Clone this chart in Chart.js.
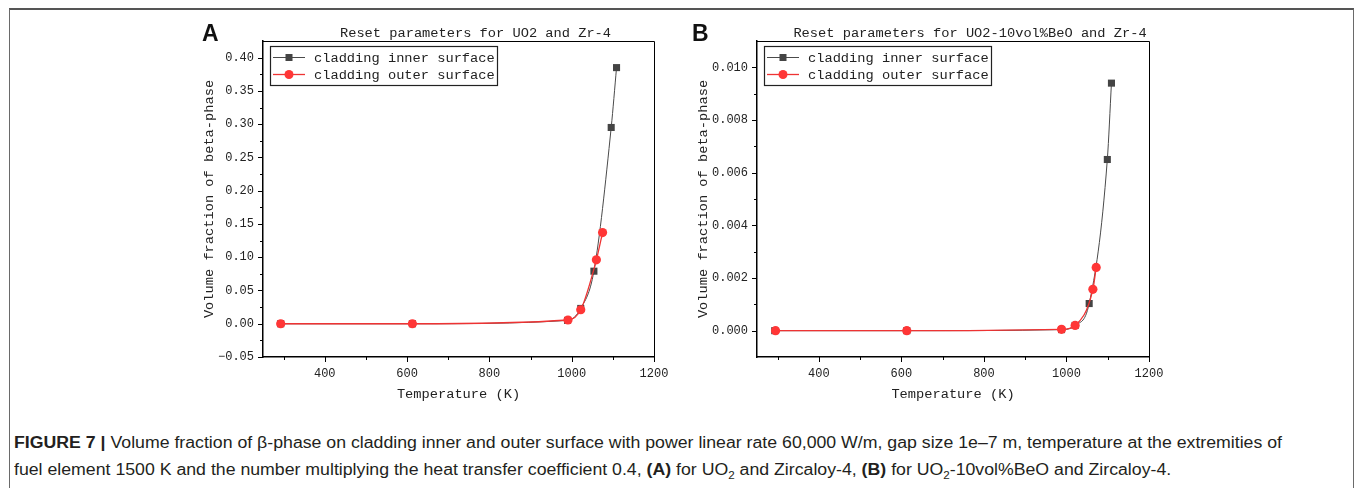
<!DOCTYPE html>
<html>
<head>
<meta charset="utf-8">
<script src="https://cdn.jsdelivr.net/npm/chart.js@4.4.1/dist/chart.umd.min.js"></script>
<style>
html, body { margin: 0; padding: 0; background: #fff; }
body { width: 1355px; height: 488px; position: relative; overflow: hidden; }
#frame { position: absolute; left: 9px; top: 8px; width: 1343px; height: 520px;
         border: 1px solid #6a6a6a; border-top: 2px solid #555; }
.panel { position: absolute; top: 0; width: 500px; height: 410px; }
#boxA { left: 180px; }
#boxB { left: 680px; }
.letter { position: absolute; top: 20px; font: bold 23px "Liberation Sans", Arial, sans-serif; color: #111; }
#caption { position: absolute; left: 14px; top: 429px; font: 16px "Liberation Sans", Arial, sans-serif;
           color: #231f20; line-height: 27px; white-space: nowrap; transform-origin: 0 0; }
#caption sub { font-size: 10.5px; line-height: 0; }
</style>
</head>
<body>
<div id="frame"></div>
<div class="panel" id="boxA"><canvas id="chartA" width="500" height="410"></canvas></div>
<div class="panel" id="boxB"><canvas id="chartB" width="500" height="410"></canvas></div>
<div class="letter" style="left:202px">A</div>
<div class="letter" style="left:692px">B</div>
<div id="caption">
  <div id="line1"><b>FIGURE 7 |</b> Volume fraction of β-phase on cladding inner and outer surface with power linear rate 60,000 W/m, gap size 1e–7 m, temperature at the extremities of</div>
  <div id="line2">fuel element 1500 K and the number multiplying the heat transfer coefficient 0.4, <b>(A)</b> for UO<sub>2</sub> and Zircaloy-4, <b>(B)</b> for UO<sub>2</sub>-10vol%BeO and Zircaloy-4.</div>
</div>

<script>
// data //

const seriesNames = ['cladding inner surface', 'cladding outer surface'];
const panelTitles = ['Reset parameters for UO2 and Zr-4', 'Reset parameters for UO2-10vol%BeO and Zr-4'];
const xTitle = 'Temperature (K)';
const yTitle = 'Volume fraction of beta-phase';

// panel A - UO2  (inner point near 990 K sits under the red circle)
const tempInnerA = [293, 613, 990, 1022, 1054, 1096, 1109];
const fracInnerA = [0, 0, 0.005, 0.023, 0.079, 0.295, 0.385];
const tempOuterA = [293, 613, 991, 1022, 1060, 1075];
const fracOuterA = [0, 0, 0.0056, 0.021, 0.096, 0.137];

// panel B - UO2-10vol%BeO
const tempInnerB = [293, 613, 988, 1021, 1055, 1099, 1109];
const fracInnerB = [0, 0, 0.00004, 0.0002, 0.00103, 0.0065, 0.0094];
const tempOuterB = [295, 613, 988, 1021, 1064, 1072];
const fracOuterB = [0, 0, 0.00005, 0.0002, 0.00157, 0.0024];

// axis ranges / ticks
const xRange = [250, 1200];
const xTicks = [400, 600, 800, 1000, 1200];
const yRangeA = [-0.05, 0.425];
const yTicksA = [-0.05, 0, 0.05, 0.10, 0.15, 0.20, 0.25, 0.30, 0.35, 0.40];
const yRangeB = [-0.001, 0.011];
const yTicksB = [0, 0.002, 0.004, 0.006, 0.008, 0.010];

const MONO = '"Liberation Mono", "DejaVu Sans Mono", monospace';
Chart.defaults.font.family = MONO;
Chart.defaults.color = '#222';

function points(xs, ys) {
    return xs.map((x, i) => ({ x: x, y: ys[i] }));
}

function fmt(v, dec) {
    let s = Number(v).toFixed(dec);
    if (s.startsWith('-')) s = '\u2212' + s.slice(1);
    return s;
}

// frame, minor/major ticks, legend and title
const decor = {
    id: 'decor',
    afterDraw(chart, args, o) {
        const { ctx, chartArea: a, scales } = chart;
        const x = scales.x, y = scales.y;
        const xs = o.xTicks[1] - o.xTicks[0];
        const ys = o.yTicks[1] - o.yTicks[0];
        ctx.save();
        ctx.strokeStyle = '#000';
        ctx.lineWidth = 1;

        // top and right side of the box
        ctx.beginPath();
        ctx.moveTo(a.left, a.top + 0.5);
        ctx.lineTo(a.right + 0.5, a.top + 0.5);
        ctx.lineTo(a.right + 0.5, a.bottom);
        ctx.stroke();

        // ticks, pointing out
        ctx.beginPath();
        o.xTicks.forEach(v => {
            const px = Math.round(x.getPixelForValue(v)) + 0.5;
            ctx.moveTo(px, a.bottom); ctx.lineTo(px, a.bottom + 5);
            const m = v - xs / 2;
            if (m > x.min) {
                const pm = Math.round(x.getPixelForValue(m)) + 0.5;
                ctx.moveTo(pm, a.bottom); ctx.lineTo(pm, a.bottom + 3);
            }
        });
        const ySeen = {};
        o.yTicks.forEach(v => {
            const py = Math.round(y.getPixelForValue(v)) + 0.5;
            ctx.moveTo(a.left, py); ctx.lineTo(a.left - 5, py);
            [-1, 1].forEach(k => {
                const m = v + k * ys / 2;
                const key = m.toFixed(6);
                if (m > y.min && m < y.max && !ySeen[key]) {
                    ySeen[key] = true;
                    const pm = Math.round(y.getPixelForValue(m)) + 0.5;
                    ctx.moveTo(a.left, pm); ctx.lineTo(a.left - 3, pm);
                }
            });
        });
        ctx.stroke();

        // title
        ctx.fillStyle = '#222';
        ctx.font = '13.7px ' + MONO;
        ctx.textAlign = 'center';
        ctx.textBaseline = 'alphabetic';
        ctx.fillText(o.title, (a.left + a.right) / 2 + 17, 37);

        // legend in the upper left corner
        const bx = a.left + 7, by = a.top + 5;
        ctx.lineWidth = 1.2;
        ctx.strokeStyle = '#222';
        ctx.strokeRect(bx + 0.5, by + 0.5, 227, 39);
        ctx.textAlign = 'left';
        ctx.textBaseline = 'middle';
        chart.data.datasets.forEach((ds, i) => {
            const ry = by + 11.5 + i * 17;
            ctx.strokeStyle = ds.borderColor;
            ctx.lineWidth = ds.borderWidth;
            ctx.beginPath();
            ctx.moveTo(bx + 3, ry); ctx.lineTo(bx + 35, ry);
            ctx.stroke();
            ctx.fillStyle = ds.backgroundColor;
            if (ds.pointStyle === 'rect') {
                ctx.fillRect(bx + 15.5, ry - 3.5, 7, 7);
            } else {
                ctx.beginPath();
                ctx.arc(bx + 19, ry, 4.5, 0, Math.PI * 2);
                ctx.fill();
            }
            ctx.fillStyle = '#222';
            ctx.fillText(ds.label, bx + 44, ry + 1);
        });
        ctx.restore();
    }
};

function makePanel(id, cfg) {
    return new Chart(document.getElementById(id), {
        type: 'line',
        data: {
            datasets: [
                {
                    label: seriesNames[0],
                    data: points(cfg.tIn, cfg.fIn),
                    borderColor: '#4a4a4a',
                    backgroundColor: '#444444',
                    borderWidth: 1,
                    pointStyle: 'rect',
                    pointRadius: 5,
                    pointBorderWidth: 0,
                    cubicInterpolationMode: 'monotone',
                    order: 2
                },
                {
                    label: seriesNames[1],
                    data: points(cfg.tOut, cfg.fOut),
                    borderColor: '#ee3333',
                    backgroundColor: '#ff3636',
                    borderWidth: 1.3,
                    pointStyle: 'circle',
                    pointRadius: 4.6,
                    pointBorderWidth: 0,
                    cubicInterpolationMode: 'monotone',
                    order: 1
                }
            ]
        },
        options: {
            responsive: false,
            animation: false,
            events: [],
            layout: { padding: { left: 0, right: cfg.padRight, top: 41, bottom: 0 } },
            plugins: {
                legend: { display: false },
                tooltip: { enabled: false },
                decor: { title: cfg.title, xTicks: xTicks, yTicks: cfg.yTicks }
            },
            scales: {
                x: {
                    type: 'linear',
                    min: xRange[0],
                    max: xRange[1],
                    afterBuildTicks(s) { s.ticks = xTicks.map(v => ({ value: v })); },
                    afterFit(s) { s.height = 53; },
                    grid: { display: false, drawTicks: false },
                    border: { display: true, color: '#000', width: 1.5 },
                    ticks: { padding: 10, font: { size: 12 }, maxRotation: 0, autoSkip: false,
                             callback: v => String(v) },
                    title: { display: true, text: xTitle, padding: { top: 0, bottom: 7 },
                             font: { size: 13.7 } }
                },
                y: {
                    type: 'linear',
                    min: cfg.yRange[0],
                    max: cfg.yRange[1],
                    afterBuildTicks(s) { s.ticks = cfg.yTicks.map(v => ({ value: v })); },
                    afterFit(s) { s.width = cfg.yWidth; },
                    grid: { display: false, drawTicks: false },
                    border: { display: true, color: '#000', width: 1.5 },
                    ticks: { padding: 9, font: { size: 12 }, autoSkip: false,
                             callback: v => fmt(v, cfg.dec) },
                    title: { display: true, text: yTitle, padding: { top: cfg.titlePad, bottom: 0 },
                             font: { size: 13.7 } }
                }
            }
        },
        plugins: [decor]
    });
}

makePanel('chartA', {
    tIn: tempInnerA, fIn: fracInnerA, tOut: tempOuterA, fOut: fracOuterA,
    yRange: yRangeA, yTicks: yTicksA, dec: 2, title: panelTitles[0],
    yWidth: 83, padRight: 26, titlePad: 21
});

makePanel('chartB', {
    tIn: tempInnerB, fIn: fracInnerB, tOut: tempOuterB, fOut: fracOuterB,
    yRange: yRangeB, yTicks: yTicksB, dec: 3, title: panelTitles[1],
    yWidth: 77, padRight: 31, titlePad: 15
});

// squeeze the caption to the width of the original lines
const cap = document.getElementById('caption');
const w1 = document.getElementById('line1').getBoundingClientRect().width;
cap.style.transform = 'scaleX(' + (1268 / w1) + ')';
</script>
</body>
</html>
